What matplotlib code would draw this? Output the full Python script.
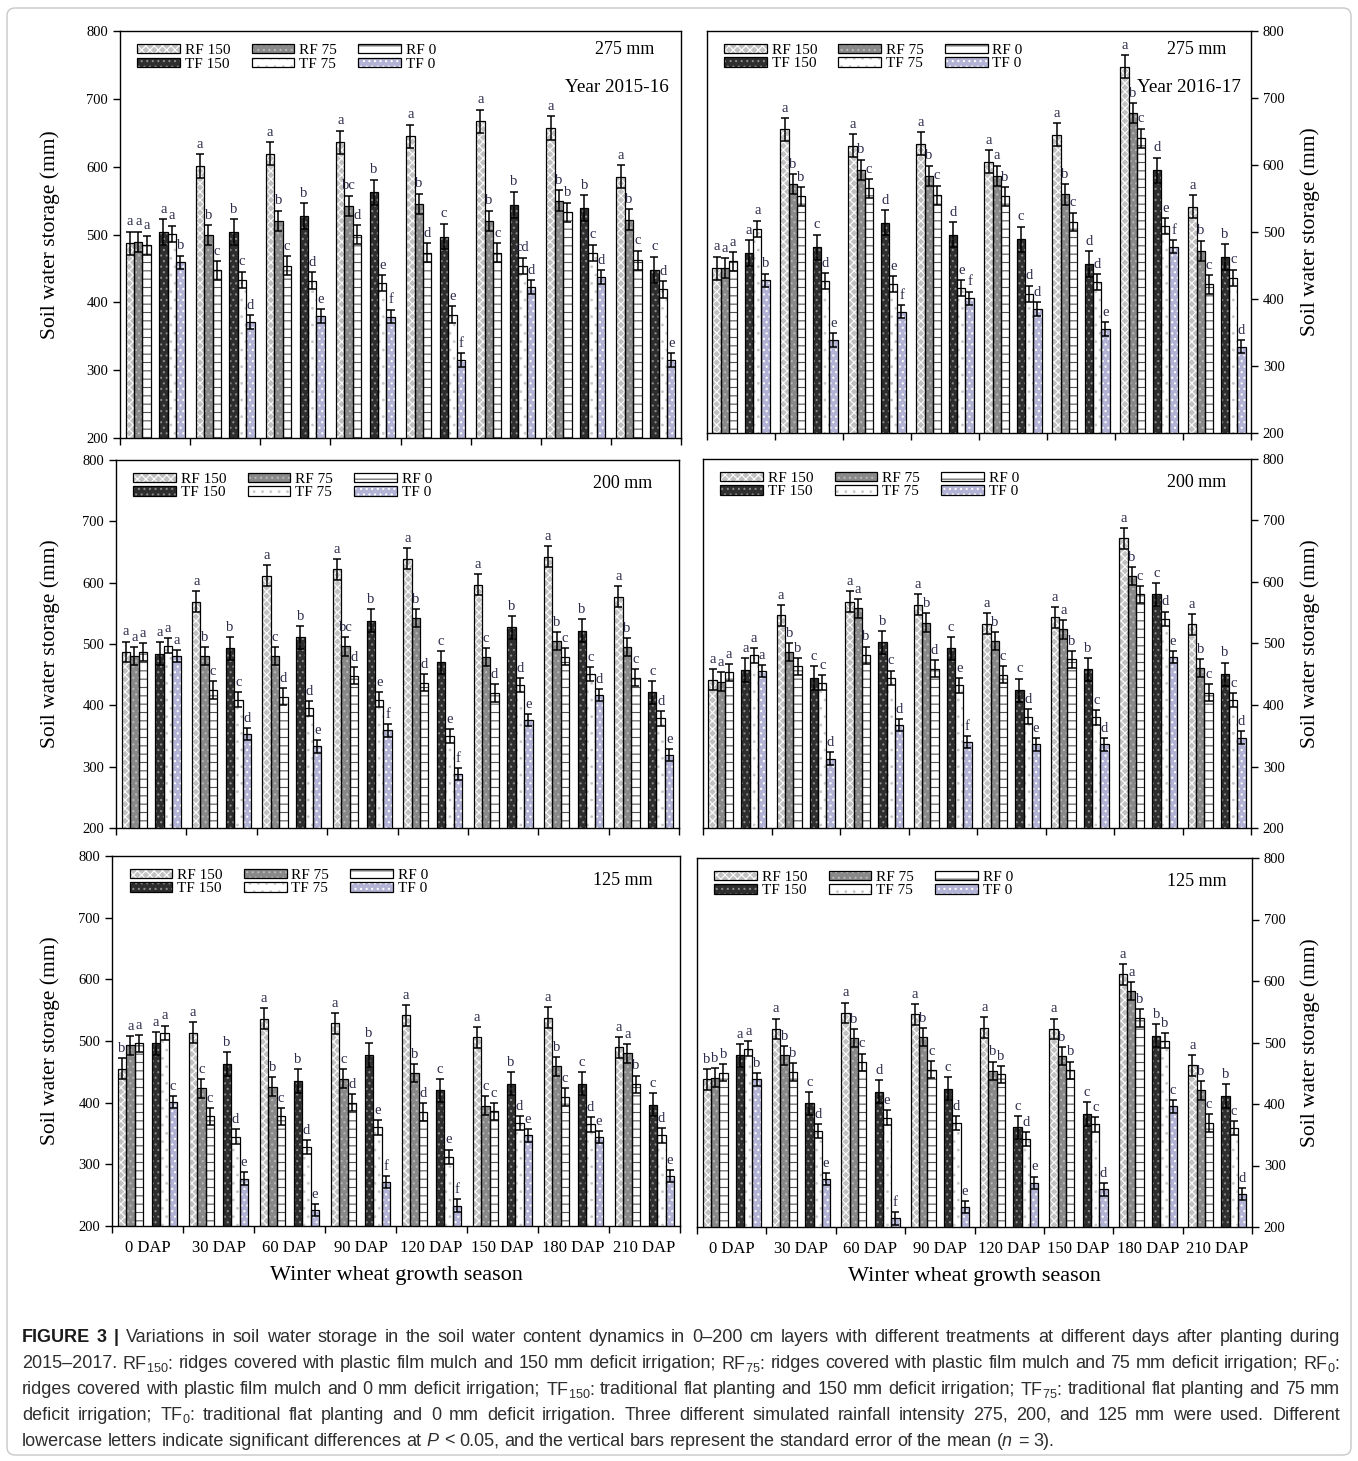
import matplotlib
matplotlib.use("Agg")
import matplotlib.pyplot as plt
import numpy as np
from matplotlib.patches import Patch, FancyBboxPatch
from matplotlib.transforms import IdentityTransform

plt.rcParams['font.family'] = 'Liberation Serif'
plt.rcParams['mathtext.default'] = 'regular'
plt.rcParams['mathtext.fontset'] = 'custom'
plt.rcParams['mathtext.it'] = 'Liberation Sans:italic'
plt.rcParams['mathtext.rm'] = 'Liberation Sans'
plt.rcParams['hatch.linewidth'] = 0.8

W, H = 1358, 1461

dap = ['0 DAP', '30 DAP', '60 DAP', '90 DAP', '120 DAP', '150 DAP', '180 DAP', '210 DAP']
treatments = ['RF 150', 'RF 75', 'RF 0', 'TF 150', 'TF 75', 'TF 0']
# standard error (mm), per treatment
se = [17, 15, 14, 19, 12, 10]

# soil water storage (mm), rows = treatments, columns = DAP
sws_275_1516 = [[487, 601, 619, 636, 645, 667, 657, 585],
                [489, 499, 520, 542, 545, 520, 550, 522],
                [484, 447, 454, 500, 473, 473, 533, 462],
                [504, 504, 527, 562, 497, 544, 539, 448],
                [501, 433, 432, 428, 382, 454, 473, 419],
                [459, 371, 380, 379, 315, 423, 437, 315]]
sws_275_1617 = [[446, 653, 629, 632, 605, 645, 747, 538],
                [446, 571, 593, 584, 584, 556, 677, 472],
                [456, 553, 565, 555, 553, 515, 640, 422],
                [469, 477, 514, 496, 489, 452, 592, 463],
                [505, 427, 422, 416, 408, 425, 509, 432],
                [428, 339, 381, 401, 385, 355, 478, 329]]
sws_200_1516 = [[487, 569, 611, 622, 639, 597, 642, 577],
                [480, 480, 480, 496, 542, 479, 505, 495],
                [487, 425, 414, 448, 437, 420, 479, 445],
                [484, 493, 511, 538, 470, 527, 522, 421],
                [497, 409, 395, 409, 350, 433, 451, 379],
                [480, 353, 333, 359, 288, 376, 417, 319]]
sws_200_1617 = [[441, 546, 568, 563, 532, 543, 671, 531],
                [438, 486, 557, 534, 504, 523, 610, 460],
                [453, 463, 481, 459, 449, 474, 580, 420],
                [457, 444, 502, 492, 424, 458, 580, 450],
                [481, 436, 444, 432, 381, 380, 540, 408],
                [455, 313, 367, 340, 336, 336, 478, 347]]
sws_125_1516 = [[455, 513, 536, 529, 542, 506, 538, 490],
                [493, 423, 426, 439, 448, 395, 459, 480],
                [496, 378, 378, 400, 385, 386, 409, 430],
                [496, 463, 435, 477, 420, 431, 431, 397],
                [513, 345, 328, 360, 312, 367, 365, 347],
                [401, 277, 226, 271, 233, 347, 344, 281]]
sws_125_1617 = [[440, 522, 548, 546, 524, 522, 611, 463],
                [443, 479, 507, 509, 454, 478, 584, 422],
                [451, 452, 468, 456, 448, 455, 540, 369],
                [479, 401, 420, 425, 362, 384, 511, 413],
                [490, 356, 378, 369, 343, 367, 503, 361],
                [440, 278, 214, 232, 272, 261, 396, 254]]

# significance letters per DAP group (RF150 RF75 RF0 TF150 TF75 TF0)
let_275_1516 = ['a a a a a b', 'a b c b c d', 'a b c b d e', 'a bc d b e f',
                'a b d c e f', 'a b c b cd d', 'a b b b c d', 'a b c c d e']
let_275_1617 = ['a a a a a b', 'a b b c d e', 'a b c d e f', 'a b c d e f',
                'a a b c d d', 'a b c d d e', 'a b c d e f', 'a b c b c d']
let_200_1516 = ['a a a a a a', 'a b c b c d', 'a c d b d e', 'a bc d b e f',
                'a b d c e f', 'a c d b d e', 'a b c b c d', 'a b c c d e']
let_200_1617 = ['a a a a a a', 'a b b c c d', 'a a b b c d', 'a b d c e f',
                'a b c c d e', 'a a b b c d', 'a b c c d e', 'a b c b c d']
let_125_1516 = ['b a a a a c', 'a c c b d e', 'a b c b d e', 'a c d b e f',
                'a b d c e f', 'a c c b d e', 'a b c c d e', 'a a b c d e']
let_125_1617 = ['b b b a a b', 'a b b c d e', 'a b c d e f', 'a b c c d e',
                'a b b c d e', 'a b b c c d', 'a a b b b c', 'a b c b c d']

# fill colour, hatch, hatch colour for each treatment
styles = [('#c2c2c2', 'xxxx', 'white'),
          ('#898989', '...', '#b8b8b8'),
          ('white', '--', '#555555'),
          ('#2e2e2e', '...', '#8a8a8a'),
          ('white', '..', '#c8c8c8'),
          ('#b3b3d6', '...', 'white')]
offsets = [-0.36, -0.24, -0.12, 0.12, 0.24, 0.36]
bw = 0.12

fig = plt.figure(figsize=(W / 100, H / 100), dpi=100)


def rect(l, r, t, b):
    return [l / W, 1 - b / H, (r - l) / W, (b - t) / H]


def panel(box, data, letters, side, rain, year=None, bottom=False):
    ax = fig.add_axes(rect(*box))
    x0 = np.arange(8) + 0.5
    for k in range(6):
        fc, hatch, hc = styles[k]
        xs = x0 + offsets[k]
        ax.bar(xs, data[k], bw, color=fc, edgecolor=hc, hatch=hatch, linewidth=0, zorder=2)
        ax.bar(xs, data[k], bw, fill=False, edgecolor='black', linewidth=0.9, zorder=3)
        ax.errorbar(xs, data[k], yerr=se[k], fmt='none', ecolor='black',
                    elinewidth=1.1, capsize=3, capthick=1.1, zorder=4)
    for g in range(8):
        lets = letters[g].split()
        for k in range(6):
            ax.text(x0[g] + offsets[k], data[k][g] + se[k] + 5, lets[k], ha='center',
                    va='bottom', fontsize=10.5, color='#2b2b4a', zorder=5)
    ax.set_xlim(0, 8)
    ax.set_ylim(200, 800)
    ax.set_yticks(range(200, 801, 100))
    ax.set_xticks(range(9))
    ax.set_xticklabels([])
    ax.tick_params(axis='both', direction='out', length=5, width=1, labelsize=10.5)
    if bottom:
        ax.set_xticks(x0, minor=True)
        ax.set_xticklabels(dap, minor=True, fontsize=12)
        ax.tick_params(axis='x', which='minor', length=0, pad=10)
        ax.set_xlabel('Winter wheat growth season', fontsize=16, labelpad=7)
    for s in ax.spines.values():
        s.set_linewidth(1.0)
    l, r, t, b = box
    if side == 'right':
        ax.yaxis.tick_right()
        ax.yaxis.set_label_position('right')
        ax.set_ylabel('Soil water storage (mm)', fontsize=15.5)
        ax.yaxis.set_label_coords((1300 - l) / (r - l), 0.5)
    else:
        ax.set_ylabel('Soil water storage (mm)', fontsize=15.5)
        ax.yaxis.set_label_coords((60 - l) / (r - l), 0.5)

    handles = []
    for k in [0, 3, 1, 4, 2, 5]:
        fc, hatch, hc = styles[k]
        handles.append((Patch(facecolor=fc, edgecolor=hc, hatch=hatch, linewidth=0),
                        Patch(facecolor='none', edgecolor='black', linewidth=0.9)))
    labels = [treatments[k] for k in [0, 3, 1, 4, 2, 5]]
    ax.legend(handles, labels, ncol=3, loc='upper left', bbox_to_anchor=(0.012, 0.995),
              frameon=False, fontsize=11, handlelength=2.8, handleheight=0.55,
              labelspacing=0.05, columnspacing=1.4, handletextpad=0.3, borderpad=0.2)
    ax.text(0.90, 0.955 if year else 0.935, rain, transform=ax.transAxes, ha='center',
            va='center', fontsize=13)
    if year:
        ax.text(0.885, 0.86, year, transform=ax.transAxes, ha='center', va='center',
                fontsize=13.8)
    return ax


panel((120, 681, 31, 438), sws_275_1516, let_275_1516, 'left', '275 mm', 'Year 2015-16')
panel((707, 1251, 31, 433), sws_275_1617, let_275_1617, 'right', '275 mm', 'Year 2016-17')
panel((116, 679, 460, 828), sws_200_1516, let_200_1516, 'left', '200 mm')
panel((703, 1251, 459, 828), sws_200_1617, let_200_1617, 'right', '200 mm')
panel((112, 680, 856, 1226), sws_125_1516, let_125_1516, 'left', '125 mm', bottom=True)
panel((697, 1252, 858, 1227), sws_125_1617, let_125_1617, 'right', '125 mm', bottom=True)

# outer frame
fig.patches.append(FancyBboxPatch((7, 6), W - 14, H - 14, boxstyle='round,pad=0,rounding_size=8',
                                  transform=IdentityTransform(), facecolor='none',
                                  edgecolor='#c8c8c8', linewidth=1.0))

caption = [
    'FIGURE 3 | Variations in soil water storage in the soil water content dynamics in 0–200 cm layers with different treatments at different days after planting during',
    '2015–2017. RF$_{150}$: ridges covered with plastic film mulch and 150 mm deficit irrigation; RF$_{75}$: ridges covered with plastic film mulch and 75 mm deficit irrigation; RF$_{0}$:',
    'ridges covered with plastic film mulch and 0 mm deficit irrigation; TF$_{150}$: traditional flat planting and 150 mm deficit irrigation; TF$_{75}$: traditional flat planting and 75 mm',
    'deficit irrigation; TF$_{0}$: traditional flat planting and 0 mm deficit irrigation. Three different simulated rainfall intensity 275, 200, and 125 mm were used. Different',
    r'lowercase letters indicate significant differences at $\mathit{P}$ < 0.05, and the vertical bars represent the standard error of the mean ($\mathit{n}$ = 3).',
]
cap_y = [1338, 1364, 1390, 1415, 1441]
renderer = fig.canvas.get_renderer()
xa, xb = 22, 1340
for i, line in enumerate(caption):
    words = line.split(' ')
    objs = []
    for j, w in enumerate(words):
        bold = (i == 0 and j < 3)
        objs.append(fig.text(0, 1 - cap_y[i] / H, w, fontsize=13, family='Liberation Sans',
                             weight='bold' if bold else 'normal',
                             color='#1a1a1a' if bold else '#2e2e2e', va='center'))
    widths = [o.get_window_extent(renderer).width for o in objs]
    if i < len(caption) - 1:
        gap = (xb - xa - sum(widths)) / (len(words) - 1)
    else:
        gap = 4.6
    x = xa
    for o, wd in zip(objs, widths):
        o.set_x(x / W)
        x += wd + gap

fig.savefig('out.png', dpi=100)
